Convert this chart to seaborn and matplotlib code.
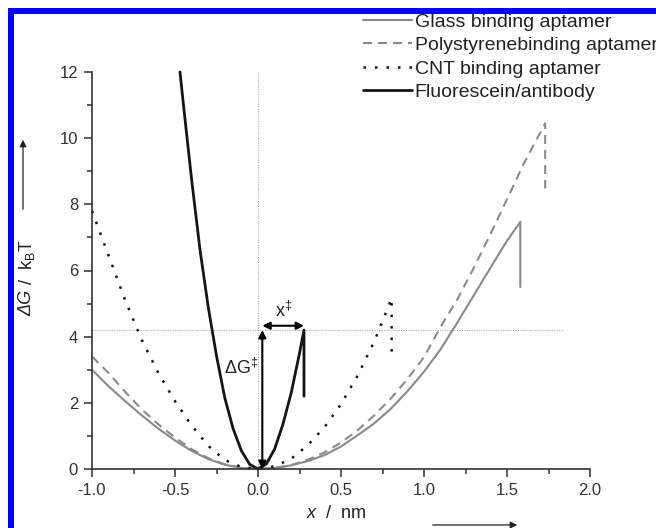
import numpy as np
import pandas as pd
import matplotlib
matplotlib.use("Agg")
import matplotlib.pyplot as plt
from matplotlib.patches import Rectangle
from matplotlib.ticker import MultipleLocator
import seaborn as sns

# ---- data ----
glass_x = [-1.0, -0.9, -0.8, -0.7, -0.6, -0.5, -0.4, -0.3, -0.2, -0.1, 0.0,
           0.1, 0.2, 0.3, 0.4, 0.5, 0.6, 0.7, 0.8, 0.9, 1.0,
           1.1, 1.2, 1.3, 1.4, 1.5, 1.58, 1.58]
glass_y = [3.0, 2.5, 2.05, 1.62, 1.22, 0.86, 0.55, 0.3, 0.13, 0.03, 0.0,
           0.03, 0.11, 0.24, 0.42, 0.68, 1.02, 1.38, 1.82, 2.35, 2.94,
           3.62, 4.42, 5.25, 6.08, 6.9, 7.47, 5.5]

poly_x = [-1.0, -0.9, -0.8, -0.7, -0.6, -0.5, -0.4, -0.3, -0.2, -0.1, 0.0,
          0.1, 0.2, 0.3, 0.4, 0.5, 0.6, 0.7, 0.8, 0.9, 1.0,
          1.1, 1.2, 1.3, 1.4, 1.5, 1.6, 1.73, 1.73]
poly_y = [3.4, 2.9, 2.33, 1.8, 1.35, 0.95, 0.6, 0.33, 0.14, 0.04, 0.0,
          0.03, 0.12, 0.28, 0.5, 0.8, 1.17, 1.62, 2.13, 2.72, 3.38,
          4.3, 5.12, 6.08, 7.1, 8.15, 9.22, 10.45, 8.48]

cnt_x = [-1.0, -0.9, -0.8, -0.7, -0.6, -0.5, -0.4, -0.3, -0.2, -0.1, 0.0,
         0.1, 0.2, 0.3, 0.4, 0.5, 0.6, 0.7, 0.805, 0.805]
cnt_y = [7.8, 6.45, 5.1, 3.9, 2.9, 2.05, 1.32, 0.7, 0.27, 0.06, 0.0,
         0.08, 0.31, 0.72, 1.26, 1.96, 2.82, 3.85, 5.16, 3.52]

fluo_x = [-0.47, -0.45, -0.4, -0.35, -0.3, -0.25, -0.2, -0.15, -0.1, -0.05, 0.0,
          0.05, 0.1, 0.15, 0.2, 0.25, 0.277, 0.277]
fluo_y = [12.0, 11.05, 8.75, 6.65, 4.9, 3.42, 2.15, 1.22, 0.55, 0.14, 0.0,
          0.15, 0.6, 1.35, 2.3, 3.5, 4.2, 2.2]

labels = ["Glass binding aptamer", "Polystyrenebinding aptamer",
          "CNT binding aptamer", "Fluorescein/antibody"]

barrier = 4.2
x_dagger = 0.277

# ---- style ----
sns.set_style("ticks")
plt.rcParams["font.family"] = ["Liberation Sans", "DejaVu Sans"]
plt.rcParams["mathtext.fontset"] = "custom"
plt.rcParams["mathtext.rm"] = "Liberation Sans"
plt.rcParams["mathtext.it"] = "Liberation Sans:italic"

fig = plt.figure(figsize=(6.56, 5.28), dpi=100)
fig.patch.set_facecolor("white")
ax = fig.add_axes([92 / 656, 59 / 528, 498 / 656, 397 / 528])

gray = "#8a8a8a"
dark = "#151515"

curves = [
    (glass_x, glass_y, gray, "-", 1.5),
    (poly_x, poly_y, gray, (0, (4.3, 2.9)), 1.5),
    (cnt_x, cnt_y, dark, (0, (1, 3.6)), 1.8),
    (fluo_x, fluo_y, dark, "-", 2.0),
]
for (xs, ys, col, ls, lw), lab in zip(curves, labels):
    df = pd.DataFrame({"x": xs, "y": ys})
    sns.lineplot(data=df, x="x", y="y", ax=ax, sort=False, estimator=None,
                 color=col, linestyle=ls, linewidth=lw, label=lab, clip_on=False)

# guide lines
ax.plot([-1.0, 1.84], [barrier, barrier], color="#9a9a9a", lw=0.7,
        linestyle=(0, (1, 1.5)), zorder=1)
ax.plot([0, 0], [0, 12], color="#9a9a9a", lw=0.7,
        linestyle=(0, (1, 1.5)), zorder=1)

# double arrows
arr = dict(arrowstyle="<|-|>", color="black", lw=1.5, mutation_scale=11,
           shrinkA=0, shrinkB=0)
ax.annotate("", xy=(0.026, 0), xytext=(0.026, barrier), arrowprops=arr)
ax.annotate("", xy=(0.026, 4.33), xytext=(x_dagger, 4.33), arrowprops=arr)
ax.text(-0.1, 3.05, "ΔG$^{‡}$", fontsize=13, ha="center", va="center", color="#222")
ax.text(0.155, 4.78, "x$^{‡}$", fontsize=13, ha="center", va="center", color="#222")

ax.set_xlim(-1, 2)
ax.set_ylim(0, 12)
ax.xaxis.set_major_locator(MultipleLocator(0.5))
ax.xaxis.set_minor_locator(MultipleLocator(0.25))
ax.yaxis.set_major_locator(MultipleLocator(2))
ax.yaxis.set_minor_locator(MultipleLocator(1))
ax.set_xticklabels([f"{v:.1f}" for v in ax.get_xticks()])
ax.tick_params(which="major", direction="out", length=6, width=1.1,
               labelsize=12, colors="#333", pad=4)
ax.tick_params(which="minor", direction="out", length=3.5, width=1.1, colors="#333")
for side in ["top", "right"]:
    ax.spines[side].set_visible(False)
for side in ["left", "bottom"]:
    ax.spines[side].set_linewidth(1.2)
    ax.spines[side].set_color("#333")
ax.set_xlabel("")
ax.set_ylabel("")

# axis labels with arrows
fig.text(27 / 656, 1 - 316 / 528, "ΔG", style="italic", rotation=90,
         fontsize=13, ha="center", va="bottom", color="#222")
fig.text(27 / 656, 1 - 285 / 528, r"/  k$_\mathregular{B}$T", rotation=90,
         fontsize=13, ha="center", va="bottom", color="#222")
fig.text(336 / 656, 1 - 514 / 528, r"$\mathit{x}$  /  nm", fontsize=13,
         ha="center", va="center", color="#222")
fig.add_artist(matplotlib.patches.FancyArrowPatch(
    (23 / 656, 1 - 212 / 528), (23 / 656, 1 - 137 / 528),
    transform=fig.transFigure, arrowstyle="-|>", mutation_scale=10,
    color="#222", lw=0.9))
fig.add_artist(matplotlib.patches.FancyArrowPatch(
    (430 / 656, 1 - 525 / 528), (520 / 656, 1 - 525 / 528),
    transform=fig.transFigure, arrowstyle="-|>", mutation_scale=10,
    color="#222", lw=0.9))

leg = ax.legend(loc="upper left", bbox_to_anchor=(363 / 656, 1 - 13 / 528),
                bbox_transform=fig.transFigure, frameon=False, fontsize=14,
                handlelength=2.5, handletextpad=0.15, labelspacing=0.3,
                borderpad=0, borderaxespad=0)
for t in leg.get_texts():
    t.set_color("#222")

# blue frame (left and top edges visible)
fig.add_artist(Rectangle((8 / 656, 0), 6 / 656, 520 / 528, transform=fig.transFigure,
                         color="#0000ff", lw=0))
fig.add_artist(Rectangle((8 / 656, 1 - 14 / 528), 648 / 656, 6 / 528,
                         transform=fig.transFigure, color="#0000ff", lw=0))

fig.savefig("out.png", dpi=100)
